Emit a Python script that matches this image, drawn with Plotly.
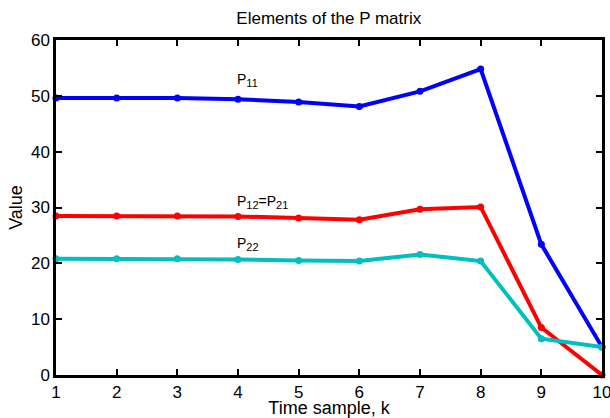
import plotly.graph_objects as go

k = [1, 2, 3, 4, 5, 6, 7, 8, 9, 10]
p11 = [49.6, 49.6, 49.6, 49.4, 48.9, 48.1, 50.8, 54.8, 23.4, 5.0]
p12 = [28.5, 28.5, 28.5, 28.4, 28.1, 27.8, 29.7, 30.1, 8.5, 0.0]
p22 = [20.8, 20.8, 20.8, 20.7, 20.5, 20.4, 21.6, 20.4, 6.5, 5.0]

font = "Liberation Sans, Arial, Helvetica, sans-serif"
fig = go.Figure()
for y, c in [(p11, "#0000FF"), (p12, "#FF0000"), (p22, "#00BFBF")]:
    fig.add_trace(go.Scatter(x=k, y=y, mode="lines+markers",
                             line=dict(color=c, width=4),
                             marker=dict(color=c, size=7),
                             showlegend=False, cliponaxis=False))


def sub(s):
    return "<sub><span style='font-size:11px'>" + s + "</span></sub>"


labels = [("P" + sub("11"), 52.8), ("P" + sub("12") + "=P" + sub("21"), 31.0), ("P" + sub("22"), 23.4)]
for t, yv in labels:
    fig.add_annotation(x=4, y=yv, text=t, showarrow=False, xanchor="left",
                       yanchor="middle", xshift=-3,
                       font=dict(family=font, size=14, color="black"))

axis = dict(showline=True, linecolor="black", linewidth=2.5, mirror="ticks",
            ticks="inside", ticklen=6, tickwidth=2, tickcolor="black",
            showgrid=False, zeroline=False, automargin=False,
            ticklabeloverflow="allow",
            tickfont=dict(family=font, size=17, color="black"))
fig.update_xaxes(range=[1, 10], tickvals=k, title=dict(text="Time sample, k", standoff=0,
                 font=dict(family=font, size=18, color="black")), **axis)
fig.update_yaxes(range=[0, 60], tickvals=[0, 10, 20, 30, 40, 50, 60],
                 title=dict(text="Value", standoff=4, font=dict(family=font, size=18, color="black")), **axis)
fig.update_layout(width=610, height=418, margin=dict(l=56, r=8, t=40, b=43),
                  plot_bgcolor="white", paper_bgcolor="white",
                  title=dict(text="Elements of the P matrix", x=0.539, xanchor="center",
                             y=0.957, yanchor="middle",
                             font=dict(family=font, size=17, color="black")))
fig.write_html("out.html")
